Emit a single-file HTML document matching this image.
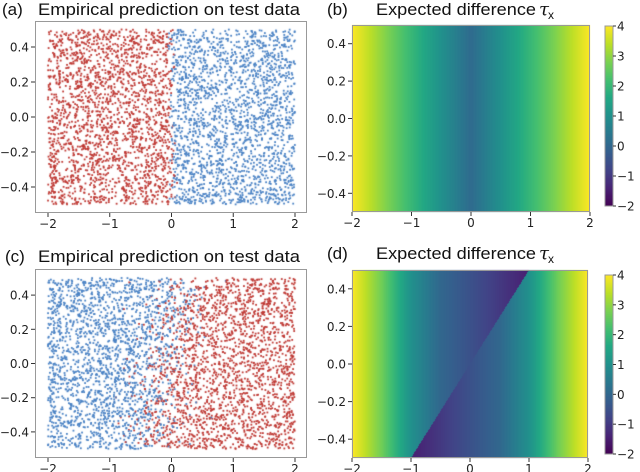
<!DOCTYPE html>
<html><head><meta charset="utf-8">
<style>
html,body{margin:0;padding:0;background:#fff;}
#wrap{position:relative;width:640px;height:472px;overflow:hidden;}
canvas,svg{position:absolute;left:0;top:0;}
</style></head>
<body>
<div id="wrap">
<canvas id="cv" width="640" height="472"></canvas>
<svg id="sv" width="640" height="472" xmlns="http://www.w3.org/2000/svg"></svg>
</div>
<script>
// ---- data ----
const xTicks = [-2, -1, 0, 1, 2];
const yTicks = [-0.4, -0.2, 0.0, 0.2, 0.4];
const yTickLabels = ["\u22120.4", "\u22120.2", "0.0", "0.2", "0.4"];
const xTickLabels = ["\u22122", "\u22121", "0", "1", "2"];
const cbTicks = [-2, -1, 0, 1, 2, 3, 4];
const cbTickLabels = ["\u22122", "\u22121", "0", "1", "2", "3", "4"];
// panel (b): expected difference sampled along x
const tauGridX = [-2, -1.5, -1, -0.5, 0, 0.5, 1, 1.5, 2];
const tauB = [4, 3.0, 2.0, 1.0, 0.1, 1.0, 2.0, 3.0, 4];
// panel (d): two regions split by boundary y = slope * x
const boundarySlope = [0.5];
const tauDUpperLeft = [4, 2.7, 1.0, 0.0, -0.5, -1.0, -1.5, -1.5, -1.5];
const tauDLowerRight = [-1.5, -1.5, -1.5, -1.0, -0.5, 0.0, 1.0, 2.7, 4];
// panel (a)/(c) classification boundaries: x_b = offset + slope*y
const boundaryA = [0.0, 0.0, 0.04];   // offset, slope, noise
const boundaryC = [-0.12, 0.6, 0.33];
const nPoints = 4300;

const viridis = ["#440154","#482475","#414487","#355f8d","#2a788e","#21918c","#22a884","#44bf70","#7ad151","#bddf26","#fde725"];
function hex(h){return [parseInt(h.substr(1,2),16),parseInt(h.substr(3,2),16),parseInt(h.substr(5,2),16)];}
const vir = viridis.map(hex);
function cmap(v){let t=(v+2)/6;t=Math.max(0,Math.min(1,t))*10;let i=Math.min(9,Math.floor(t)),f=t-i;
 return vir[i].map((c,k)=>Math.round(c+(vir[i+1][k]-c)*f));}
function interp(xs,ys,x){if(x<=xs[0])return ys[0];for(let i=1;i<xs.length;i++){if(x<=xs[i]){const f=(x-xs[i-1])/(xs[i]-xs[i-1]);return ys[i-1]+(ys[i]-ys[i-1])*f;}}return ys[ys.length-1];}

const panels = {
 a:{box:[35,21,307,213], xs:[48,295], ys:[29.5,204.5]},
 b:{box:[352,25,590,212], xs:[352,590], ys:[25,212], cb:[605,26,613,206]},
 c:{box:[35,269,307,458], xs:[48,295], ys:[278,449]},
 d:{box:[352,270,588,458], xs:[352,588], ys:[270,458], cb:[605,275,613,454]}
};
function sx(p,x){return p.xs[0]+(x+2)/4*(p.xs[1]-p.xs[0]);}
function sy(p,y){return p.ys[0]+(0.5-y)*(p.ys[1]-p.ys[0]);}

const cv=document.getElementById('cv'),ctx=cv.getContext('2d');
const NS="http://www.w3.org/2000/svg",sv=document.getElementById('sv');
function el(tag,attrs,parent){const e=document.createElementNS(NS,tag);for(const k in attrs)e.setAttribute(k,attrs[k]);(parent||sv).appendChild(e);return e;}

// heatmaps
function heat(p,fn){const [x0,y0,x1,y1]=p.box;const w=x1-x0,h=y1-y0;const img=ctx.createImageData(w,h);
 for(let j=0;j<h;j++){const y=0.5-(j+0.5)/h;for(let i=0;i<w;i++){const x=-2+(i+0.5)/w*4;const c=cmap(fn(x,y));const o=(j*w+i)*4;img.data[o]=c[0];img.data[o+1]=c[1];img.data[o+2]=c[2];img.data[o+3]=255;}}
 ctx.putImageData(img,x0,y0);}
heat(panels.b,(x,y)=>interp(tauGridX,tauB,x));
heat(panels.d,(x,y)=>(y>boundarySlope[0]*x)?interp(tauGridX,tauDUpperLeft,x):interp(tauGridX,tauDLowerRight,x));
function colorbar(p){const [x0,y0,x1,y1]=p.cb;for(let j=y0;j<y1;j++){const v=4-(j-y0+0.5)/(y1-y0)*6;const c=cmap(v);ctx.fillStyle=`rgb(${c})`;ctx.fillRect(x0,j,x1-x0,1);}}
colorbar(panels.b);colorbar(panels.d);

// scatter (texture of test points, seeded)
let seed=12345;function rnd(){seed=(seed*1103515245+12345)%2147483648;return seed/2147483648;}
function gauss(){return Math.sqrt(-2*Math.log(rnd()+1e-9))*Math.cos(2*Math.PI*rnd());}
function scatter(p,bd){for(let n=0;n<nPoints;n++){const x=-2+4*rnd(),y=-0.5+rnd();const xb=bd[0]+bd[1]*y+bd[2]*gauss();
 if(bd===boundaryA)ctx.fillStyle=(x<xb)?"#bf3a35":"#4a82c4";
 else ctx.fillStyle=(x<xb)?"#4a82c4":"#bf3a35";
 ctx.fillRect(sx(p,x)-0.9,sy(p,y)-0.9,1.8,1.8);}}
scatter(panels.a,boundaryA);scatter(panels.c,boundaryC);

// axes
function axes(p,id){const g=el('g',{});
 const [x0,y0,x1,y1]=p.box;el('rect',{x:x0+0.5,y:y0+0.5,width:x1-x0-1,height:y1-y0-1,fill:'none',stroke:'#999','stroke-width':1},g);
 xTicks.forEach((t,i)=>{const X=sx(p,t);el('line',{x1:X,x2:X,y1:y1,y2:y1+4,stroke:'#333'},g);
  const tx=el('text',{x:X,y:y1+15,'text-anchor':'middle','font-size':12,'font-family':'DejaVu Sans, sans-serif',fill:'#222'},g);tx.textContent=xTickLabels[i];
  });
 yTicks.forEach((t,i)=>{const Y=sy(p,t);el('line',{x1:x0-4,x2:x0,y1:Y,y2:Y,stroke:'#333'},g);
  const tx=el('text',{x:x0-6,y:Y+4.5,'text-anchor':'end','font-size':12,'font-family':'DejaVu Sans, sans-serif',fill:'#222'},g);tx.textContent=yTickLabels[i];
  });
 if(p.cb){const [c0,d0,c1,d1]=p.cb;el('rect',{x:c0,y:d0,width:c1-c0,height:d1-d0,fill:'none',stroke:'#999'},g);
  cbTicks.forEach((t,i)=>{const Y=d1-(t+2)/6*(d1-d0);el('line',{x1:c1,x2:c1+3,y1:Y,y2:Y,stroke:'#333'},g);
   const tx=el('text',{x:c1+4,y:Y+4.5,'font-size':12,'font-family':'DejaVu Sans, sans-serif',fill:'#222'},g);tx.textContent=cbTickLabels[i];
   });}
}
axes(panels.a,'a');axes(panels.b,'b');axes(panels.c,'c');axes(panels.d,'d');

function title(x,y,lab,txt,tx2,len,isTau){const t=el('text',{x:x,y:y,'font-size':17,'font-family':'Liberation Sans, sans-serif',fill:'#111'});t.textContent=lab;
 
 const s=el('text',{x:tx2,y:y,'font-size':17,'font-family':'Liberation Sans, sans-serif',fill:'#111',textLength:len,lengthAdjust:'spacingAndGlyphs'});
 
 s.textContent=txt;
 if(isTau){const ta=el('text',{x:tx2+len+3,y:y,'font-size':18,'font-style':'italic','font-family':'DejaVu Serif, serif',fill:'#111'});ta.textContent='\u03c4';
  const sb=el('text',{x:tx2+len+12,y:y+4,'font-size':12,'font-family':'Liberation Sans, sans-serif',fill:'#111'});sb.textContent='x';}
}
title(2,15,'(a)','Empirical prediction on test data',38,262,false);
title(327,15,'(b)','Expected difference',376,160,true);
title(5,262,'(c)','Empirical prediction on test data',38,262,false);
title(327,259,'(d)','Expected difference',376,160,true);
</script>
</body></html>
